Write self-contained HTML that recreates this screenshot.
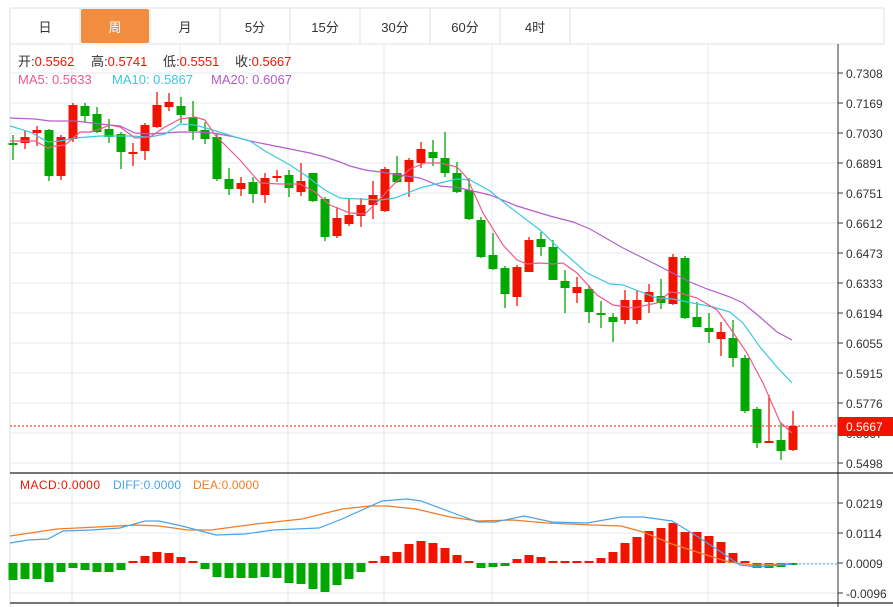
<!DOCTYPE html>
<html><head><meta charset="utf-8"><style>
body{margin:0;background:#fff;width:893px;height:607px;overflow:hidden;font-family:"Liberation Sans","Noto Sans CJK SC",sans-serif}
svg{position:absolute;left:0;top:0}
</style></head><body>
<svg id="s" width="893" height="607" xmlns="http://www.w3.org/2000/svg"></svg>
<script>
const S=document.getElementById('s');let h='';
const G='#00a800',R='#f01400';
h+='<rect x="10" y="8" width="874" height="36" fill="#fff" stroke="#dde3e8"/>';
const tabs=['日','周','月','5分','15分','30分','60分','4时'];
tabs.forEach((t,i)=>{const x=10+i*70;
 if(i==1)h+=`<rect x="${x+1}" y="9" width="68" height="34" rx="2" fill="#f28c3e"/>`;
 h+=`<line x1="${x+70}" y1="8" x2="${x+70}" y2="44" stroke="#dde3e8"/>`;
 h+=`<text x="${x+35}" y="32" font-size="13" text-anchor="middle" fill="${i==1?'#fff':'#333'}">${t}</text>`;});
h+='<line x1="10" y1="44" x2="10" y2="607" stroke="#dde3e8"/>';
const vx=[72,180,288,384,492,588,708];
vx.forEach(x=>h+=`<line x1="${x}" y1="44" x2="${x}" y2="473" stroke="#e3ebf2"/><line x1="${x}" y1="473" x2="${x}" y2="603" stroke="#e3ebf2"/>`);
const pl=['0.7308','0.7169','0.7030','0.6891','0.6751','0.6612','0.6473','0.6333','0.6194','0.6055','0.5915','0.5776','0.5637','0.5498'];
pl.forEach((p,i)=>{const y=73+i*30;h+=`<line x1="10" y1="${y}" x2="838" y2="${y}" stroke="#e3ebf2"/><line x1="838" y1="${y}" x2="843" y2="${y}" stroke="#333"/><text x="846" y="${y+5}" font-size="12" fill="#333">${p}</text>`;});
[[503,'0.0219'],[533,'0.0114'],[563,'0.0009'],[593,'-0.0096']].forEach(([y,t])=>h+=`<line x1="10" y1="${y}" x2="838" y2="${y}" stroke="#e3ebf2"/><line x1="838" y1="${y}" x2="843" y2="${y}" stroke="#333"/><text x="846" y="${y+5}" font-size="12" fill="#333">${t}</text>`);
h+='<line x1="838" y1="44" x2="838" y2="607" stroke="#333"/><line x1="10" y1="473" x2="893" y2="473" stroke="#222" stroke-width="1.2"/><line x1="10" y1="603" x2="893" y2="603" stroke="#222" stroke-width="1.2"/>';
const C=[[143,145,135,160,G],[137,143,130,149,R],[130,133,126,146,R],[130,176,129,181,G],[137,176,135,180,R],[105,139,103,142,R],[106,116,103,122,G],[114,132,107,133,G],[129,137,119,143,G],[134,152,132,169,G],[152,154,143,166,R],[125,151,123,160,R],[105,127,92,128,R],[102,107,93,111,R],[106,115,97,123,G],[117,131,101,140,G],[130,139,122,144,G],[137,179,133,181,G],[179,189,168,195,G],[183,189,177,196,R],[182,194,177,203,G],[178,195,173,203,R],[176,178,170,182,R],[175,188,170,197,G],[181,192,163,196,R],[173,201,173,202,G],[199,237,197,241,G],[218,236,207,238,R],[215,224,198,226,R],[205,216,198,227,R],[195,205,181,219,R],[169,211,167,212,R],[173,182,156,183,G],[160,182,158,197,R],[149,163,142,168,R],[152,158,140,166,G],[158,173,132,177,G],[173,192,162,193,G],[190,219,178,220,G],[220,257,217,258,G],[255,269,233,270,G],[268,294,266,308,G],[267,297,265,306,R],[240,272,237,272,R],[239,247,232,256,G],[247,280,240,280,G],[281,288,270,313,G],[287,293,277,303,R],[289,312,285,323,G],[313,315,301,328,G],[317,322,313,342,G],[300,320,290,324,R],[300,320,290,324,R],[292,302,284,313,R],[296,303,279,309,G],[257,304,254,305,R],[258,318,256,319,G],[317,327,302,327,G],[328,332,313,343,G],[332,339,322,356,R],[338,358,320,367,G],[358,411,355,413,G],[409,443,407,448,G],[441,443,395,443,R],[440,451,423,460,G],[426,450,411,451,R]];
C.forEach((c,i)=>{const x=13+12*i;h+=`<line x1="${x}" y1="${c[2]}" x2="${x}" y2="${c[3]}" stroke="${c[4]}" stroke-width="1.3"/><rect x="${x-4.5}" y="${c[0]}" width="9" height="${Math.max(1.5,c[1]-c[0])}" fill="${c[4]}"/>`;});
const P=a=>a.map(p=>p.join(',')).join(' ');
const ma20=[[10,118],[35,119],[50,121],[75,121],[100,124],[120,126],[135,133],[150,134],[165,133],[180,132],[200,132],[213,133],[235,137],[250,141],[265,144],[280,147],[300,151],[310,153],[325,157],[340,162],[350,166],[365,170],[380,172],[400,175],[420,178],[440,186],[460,188],[490,195],[517,206],[550,216],[573,222],[590,229],[623,248],[657,265],[690,282],[707,289],[730,297],[743,303],[760,317],[777,332],[792,340]];
const ma10=[[10,126],[30,132],[48,142],[60,141],[75,138],[100,136],[130,136],[150,137],[165,134],[180,124],[195,125],[213,130],[235,137],[250,141],[265,151],[290,165],[305,175],[325,190],[340,198],[360,199],[380,200],[395,198],[420,188],[440,183],[457,179],[470,180],[490,191],[507,205],[540,230],[563,252],[587,273],[610,284],[623,285],[657,298],[673,299],[693,303],[713,307],[730,312],[743,323],[760,347],[777,367],[792,383]];
const ma5=[[10,141],[35,141],[48,148],[55,146],[65,145],[80,132],[90,132],[100,129],[110,125],[120,127],[135,138],[150,137],[165,127],[180,119],[195,117],[205,120],[215,135],[240,160],[260,183],[280,184],[300,184],[315,192],[330,205],[350,213],[365,214],[380,199],[395,183],[410,169],[425,163],[440,163],[457,167],[467,178],[483,213],[503,245],[517,260],[527,264],[540,263],[553,264],[563,263],[577,273],[597,295],[613,305],[633,308],[657,303],[670,292],[680,293],[697,298],[717,310],[730,328],[747,353],[763,383],[780,422],[792,433]];
h+=`<polyline points="${P(ma20)}" fill="none" stroke="#b65cc8" stroke-width="1.2"/><polyline points="${P(ma10)}" fill="none" stroke="#3cc8e0" stroke-width="1.2"/><polyline points="${P(ma5)}" fill="none" stroke="#ec5a8c" stroke-width="1.2"/>`;
h+='<line x1="10" y1="426" x2="838" y2="426" stroke="#f01400" stroke-dasharray="2,2"/><rect x="838" y="417" width="55" height="19" fill="#f01400"/><text x="846" y="431" font-size="12" fill="#fff">0.5667</text>';
h+='<g font-size="13"><text x="18" y="66" fill="#333">开:<tspan fill="#f01400">0.5562</tspan></text><text x="91" y="66" fill="#333">高:<tspan fill="#f01400">0.5741</tspan></text><text x="163" y="66" fill="#333">低:<tspan fill="#f01400">0.5551</tspan></text><text x="235" y="66" fill="#333">收:<tspan fill="#f01400">0.5667</tspan></text>';
h+='<text x="18" y="84" fill="#ec5a8c">MA5: 0.5633</text><text x="112" y="84" fill="#3cc8e0">MA10: 0.5867</text><text x="211" y="84" fill="#b65cc8">MA20: 0.6067</text></g>';
h+='<g font-size="12"><text x="20" y="489" fill="#f01400" textLength="80">MACD:0.0000</text><text x="113" y="489" fill="#4aa3e8" textLength="68">DIFF:0.0000</text><text x="193" y="489" fill="#f07c28" textLength="66">DEA:0.0000</text></g>';
const B=[580,579,579,582,572,568,570,572,572,570,561,556,552,553,557,561,569,577,578,578,578,577,578,583,584,589,592,585,579,572,561,556,552,544,541,543,548,555,561,568,567,566,559,555,557,561,561,561,561,558,552,543,537,531,528,523,532,532,536,542,553,561,568,568,567,565];
B.forEach((b,i)=>{const x=13+12*i;const y0=563;const top=Math.min(b,y0),ht=Math.max(1,Math.abs(b-y0));h+=`<rect x="${x-4.5}" y="${top}" width="9" height="${ht}" fill="${b<y0?R:G}"/>`;});
h+='<line x1="795" y1="564" x2="838" y2="564" stroke="#4aa3e8" stroke-dasharray="2,2"/>';
const dif=[[10,543],[28,540],[48,539],[63,531],[91,530],[120,528],[145,521],[159,521],[182,526],[216,535],[245,534],[273,530],[319,528],[342,519],[382,501],[407,499],[421,501],[456,514],[478,522],[495,522],[524,516],[552,522],[587,523],[621,517],[643,517],[672,521],[695,535],[718,550],[740,565],[757,567],[792,564]];
const dea=[[10,536],[57,529],[97,527],[137,525],[159,526],[188,530],[211,530],[256,524],[302,519],[342,509],[370,506],[387,506],[416,509],[450,517],[478,521],[513,520],[547,523],[592,525],[621,526],[643,532],[672,544],[700,553],[729,562],[752,565],[792,564]];
h+=`<polyline points="${P(dea)}" fill="none" stroke="#f07c28" stroke-width="1.3"/><polyline points="${P(dif)}" fill="none" stroke="#4aa3e8" stroke-width="1.2"/>`;
S.innerHTML=h;
</script>
</body></html>
